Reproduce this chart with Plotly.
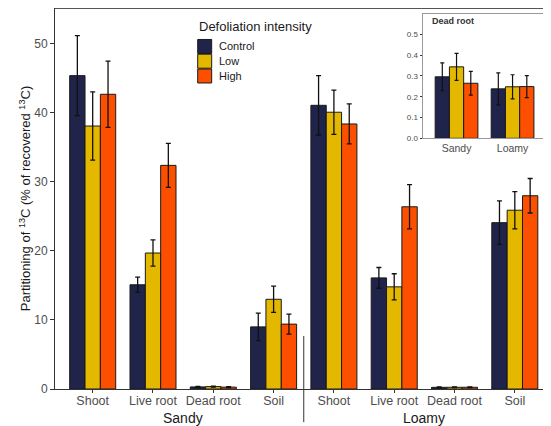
import plotly.graph_objects as go

categories = ["Shoot", "Live root", "Dead root", "Soil", "Shoot ", "Live root ", "Dead root ", "Soil "]
tick_labels = ["Shoot", "Live root", "Dead root", "Soil", "Shoot", "Live root", "Dead root", "Soil"]
soils = ["Sandy", "Loamy"]
treatments = ["Control", "Low", "High"]

control = [45.4, 15.1, 0.30, 9.0, 41.1, 16.1, 0.24, 24.1]
control_err = [5.8, 1.1, 0.07, 2.0, 4.3, 1.5, 0.08, 3.15]
low = [38.1, 19.7, 0.35, 13.0, 40.1, 14.8, 0.25, 25.9]
low_err = [4.95, 1.9, 0.06, 1.9, 3.2, 1.9, 0.06, 2.7]
high = [42.7, 32.4, 0.27, 9.4, 38.4, 26.4, 0.25, 28.0]
high_err = [4.8, 3.2, 0.055, 1.45, 2.9, 3.2, 0.05, 2.5]

dead_control = [0.296, 0.238]
dead_control_err = [0.067, 0.077]
dead_low = [0.344, 0.248]
dead_low_err = [0.065, 0.058]
dead_high = [0.265, 0.249]
dead_high_err = [0.057, 0.053]

colors = {"Control": "#20234a", "Low": "#e5b800", "High": "#fc5000"}
FONT = "Liberation Sans, Arial, sans-serif"
OUTLINE = "#1a1a1a"

fig = go.Figure()
main = [(control, control_err), (low, low_err), (high, high_err)]
for name, (vals, errs) in zip(treatments, main):
    fig.add_trace(go.Bar(
        x=categories, y=vals, name=name,
        marker=dict(color=colors[name], line=dict(color=OUTLINE, width=1)),
        error_y=dict(type="data", array=errs, color="#111111", thickness=1.3, width=2.5),
        xaxis="x", yaxis="y", showlegend=False,
    ))

inset = [(dead_control, dead_control_err), (dead_low, dead_low_err), (dead_high, dead_high_err)]
for name, (vals, errs) in zip(treatments, inset):
    fig.add_trace(go.Bar(
        x=soils, y=vals, name=name,
        marker=dict(color=colors[name], line=dict(color=OUTLINE, width=1)),
        error_y=dict(type="data", array=errs, color="#111111", thickness=1.2, width=2),
        xaxis="x2", yaxis="y2", showlegend=False,
    ))

# manual legend (paper coordinates)
shapes = [
    dict(type="line", xref="paper", yref="paper", x0=0, x1=1, y0=1, y1=1,
         line=dict(color="#555555", width=2)),
    dict(type="line", xref="x", yref="paper", x0=3.5, x1=3.5, y0=0.139, y1=-0.087,
         line=dict(color="#333333", width=1)),
]
annotations = [
    dict(text="Sandy", x=1.5, xref="x", y=-0.076, yref="paper", yanchor="middle",
         showarrow=False, font=dict(size=14, color="#1a1a1a")),
    dict(text="Loamy", x=5.5, xref="x", y=-0.076, yref="paper", yanchor="middle",
         showarrow=False, font=dict(size=14, color="#1a1a1a")),
    dict(text="<b>Dead root</b>", x=0.757, xref="paper", y=0.967, yref="paper",
         xanchor="left", yanchor="middle", showarrow=False,
         font=dict(size=9, color="#333333")),
    dict(text="Defoliation intensity", x=0.2867, xref="paper", y=0.951, yref="paper",
         xanchor="left", yanchor="middle", showarrow=False,
         font=dict(size=13, color="#1a1a1a")),
]
sq_top = [0.9174, 0.8787, 0.8399]
sq_h = 0.0367
txt_y = [0.9011, 0.8617, 0.8215]
for name, top, ty in zip(treatments, sq_top, txt_y):
    shapes.append(dict(type="rect", xref="paper", yref="paper",
                       x0=0.2877, x1=0.3159, y0=top - sq_h, y1=top,
                       fillcolor=colors[name], line=dict(color=OUTLINE, width=1)))
    annotations.append(dict(text=name, x=0.326, xref="paper", y=ty, yref="paper",
                            xanchor="left", yanchor="middle", showarrow=False,
                            font=dict(size=11, color="#1a1a1a")))

fig.update_layout(
    width=543, height=418,
    margin=dict(l=47, r=0, t=0, b=37),
    plot_bgcolor="white", paper_bgcolor="white",
    font=dict(family=FONT, color="#4d4d4d"),
    barmode="group", bargap=0.237, bargroupgap=0,
    showlegend=False,
    xaxis=dict(
        domain=[0, 1], type="category", categoryorder="array", categoryarray=categories,
        tickmode="array", tickvals=categories, ticktext=tick_labels,
        range=[-0.625, 7.6], showline=True, linecolor="#333333", linewidth=1,
        ticks="outside", ticklen=3, tickcolor="#333333", tickfont=dict(size=12.5, color="#4d4d4d"),
        ticklabelstandoff=-3,
        showgrid=False, zeroline=False,
    ),
    yaxis=dict(
        domain=[0, 1], range=[0, 55.2], tickvals=[0, 10, 20, 30, 40, 50],
        showline=True, linecolor="#333333", linewidth=1,
        ticks="outside", ticklen=4, tickcolor="#333333", tickfont=dict(size=12, color="#4d4d4d"),
        showgrid=False, zeroline=False,
        title=dict(text="Partitioning of <sup>13</sup>C (% of recovered <sup>13</sup>C)",
                   font=dict(size=13, color="#1a1a1a"), standoff=0),
    ),
    xaxis2=dict(
        domain=[0.741, 0.988], anchor="y2", type="category", range=[-0.607, 1.58],
        showline=True, mirror=True, linecolor="#999999", linewidth=1,
        ticks="", tickfont=dict(size=10.5, color="#4d4d4d"), showgrid=False, zeroline=False,
    ),
    yaxis2=dict(
        domain=[0.658, 0.984], anchor="x2", range=[0, 0.598],
        tickvals=[0, 0.1, 0.2, 0.3, 0.4, 0.5], tickformat=".1f",
        showline=True, mirror=True, linecolor="#999999", linewidth=1,
        ticks="outside", ticklen=2, tickcolor="#333333", tickfont=dict(size=8, color="#4d4d4d"),
        showgrid=False, zeroline=False,
    ),
    shapes=shapes,
    annotations=annotations,
)

fig.write_html("out.html")
